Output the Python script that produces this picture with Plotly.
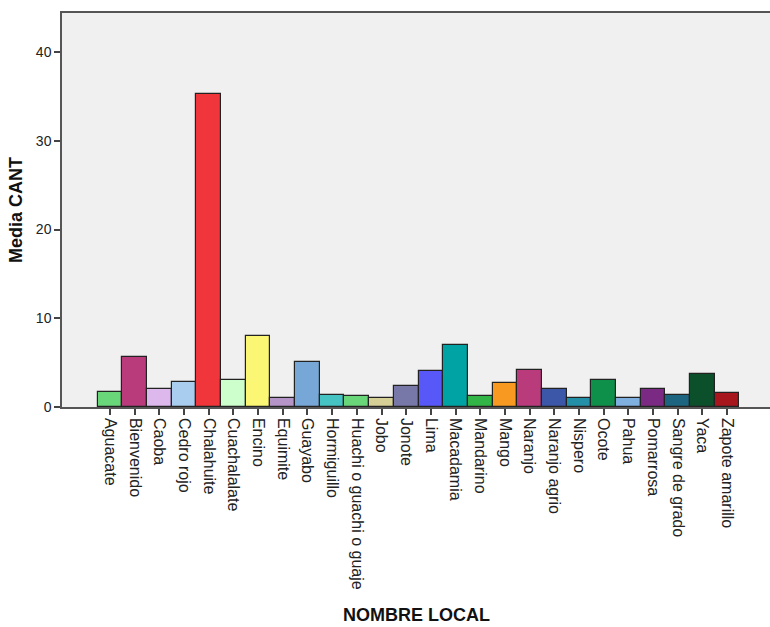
import plotly.graph_objects as go

# Mean CANT per local tree name
categories = [
    "Aguacate", "Bienvenido", "Caoba", "Cedro rojo", "Chalahuite", "Cuachalalate",
    "Encino", "Equimite", "Guayabo", "Hormiguillo", "Huachi o guachi o guaje",
    "Jobo", "Jonote", "Lima", "Macadamia", "Mandarino", "Mango", "Naranjo",
    "Naranjo agrio", "Nispero", "Ocote", "Pahua", "Pomarrosa", "Sangre de grado",
    "Yaca", "Zapote amarillo",
]
media_cant = [
    1.7, 5.67, 2.03, 2.78, 35.27, 3.0,
    8.0, 1.0, 5.03, 1.39, 1.2,
    0.98, 2.33, 4.02, 7.02, 1.2, 2.7, 4.13,
    2.03, 0.98, 3.0, 0.98, 2.0, 1.35,
    3.72, 1.54,
]
bar_colors = [
    "#6ad67a", "#b93b7c", "#dcb8ec", "#a8cdee", "#f0363b", "#ccffcc",
    "#fbf774", "#b594c7", "#76a7d6", "#45c2c2", "#6ad67a",
    "#d6cf96", "#7878a8", "#5858f8", "#00a3a3", "#32b546", "#f89a22", "#b93b7c",
    "#3c57a8", "#2390a8", "#0e8f4a", "#7fb0e0", "#7b2a83", "#1c6480",
    "#0b4f2b", "#a8161d",
]
y_ticks = [0, 10, 20, 30, 40]

fig = go.Figure(
    go.Bar(
        x=list(range(len(categories))),
        y=media_cant,
        width=1.0,
        marker=dict(color=bar_colors, line=dict(color="#222222", width=1.2)),
        hoverinfo="skip",
    )
)

fig.update_layout(
    width=770,
    height=627,
    margin=dict(l=62, r=0, t=13, b=220),
    paper_bgcolor="white",
    plot_bgcolor="#f0f0f0",
    showlegend=False,
    font=dict(family="Liberation Sans, Arial, sans-serif", color="#222222"),
    bargap=0,
)

fig.update_xaxes(
    range=[-1.945, 26.74],
    tickmode="array",
    tickvals=list(range(len(categories))),
    ticktext=categories,
    tickangle=90,
    tickfont=dict(size=16, color="#222222"),
    ticks="outside",
    ticklen=6,
    tickwidth=1.5,
    tickcolor="#444444",
    showline=True,
    linecolor="#555555",
    linewidth=1.5,
    mirror=True,
    showgrid=False,
    zeroline=False,
    fixedrange=True,
)

fig.update_yaxes(
    range=[0, 44.4],
    tickmode="array",
    tickvals=y_ticks,
    ticktext=[str(v) for v in y_ticks],
    tickfont=dict(size=14, color="#222222"),
    ticks="outside",
    ticklen=6,
    tickwidth=1.5,
    tickcolor="#444444",
    showline=True,
    linecolor="#555555",
    linewidth=1.5,
    showgrid=False,
    zeroline=False,
    fixedrange=True,
)

fig.add_annotation(
    text="<b>NOMBRE LOCAL</b>",
    xref="paper", yref="paper",
    x=0.5, y=-0.528,
    xanchor="center", yanchor="middle",
    showarrow=False,
    font=dict(size=18, color="#111111"),
)
fig.add_annotation(
    text="<b>Media CANT</b>",
    xref="paper", yref="paper",
    x=-0.065, y=0.5,
    xanchor="center", yanchor="middle",
    textangle=-90,
    showarrow=False,
    font=dict(size=18, color="#111111"),
)

fig.write_html("out.html")
